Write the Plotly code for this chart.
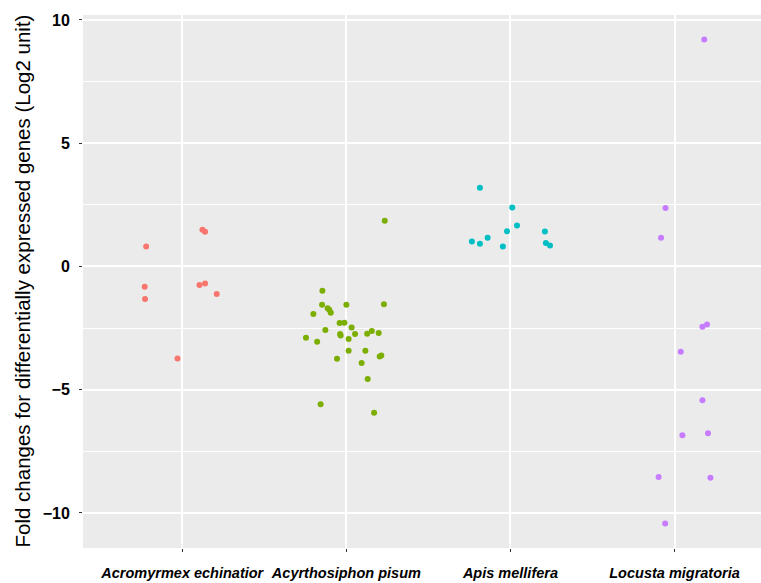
import plotly.graph_objects as go

categories = ["Acromyrmex echinatior", "Acyrthosiphon pisum", "Apis mellifera", "Locusta migratoria"]
colors = ["#F8766D", "#7CAE00", "#00BFC4", "#C77CFF"]

acro_values = [0.81, 1.49, 1.41, -0.82, -1.32, -0.75, -0.69, -1.12, -3.73]
acro_jitter = [-0.22, 0.123, 0.139, -0.229, -0.227, 0.105, 0.139, 0.21, -0.029]

acyr_values = [1.85, -0.99, -1.55, -1.55, -1.53, -1.69, -1.76, -1.88, -1.93, -2.29, -2.28,
               -2.48, -2.58, -2.89, -2.74, -2.80, -2.74, -2.94, -3.05, -2.73, -2.62, -2.70,
               -3.42, -3.42, -3.74, -3.65, -3.61, -3.92, -4.56, -5.59, -5.93]
acyr_jitter = [0.234, -0.146, -0.148, 0.0, 0.229, -0.114, -0.104, -0.095, -0.201, -0.041, -0.012,
               0.032, -0.128, -0.246, -0.038, -0.035, 0.053, 0.014, -0.178, 0.127, 0.155, 0.197,
               0.014, 0.116, -0.057, 0.203, 0.213, 0.093, 0.13, -0.157, 0.169]

apis_values = [3.19, 2.39, 1.66, 1.43, 1.42, 1.16, 1.01, 0.92, 0.81, 0.95, 0.85]
apis_jitter = [-0.186, 0.011, 0.04, -0.021, 0.21, -0.139, -0.235, -0.186, -0.046, 0.216, 0.241]

locu_values = [9.21, 2.37, 1.16, -2.35, -2.45, -3.46, -5.43, -6.85, -6.77, -8.54, -8.57, -10.43]
locu_jitter = [0.181, -0.055, -0.082, 0.198, 0.170, 0.038, 0.170, 0.048, 0.204, -0.097, 0.219, -0.057]

groups = [(acro_values, acro_jitter), (acyr_values, acyr_jitter),
          (apis_values, apis_jitter), (locu_values, locu_jitter)]

y_ticks = [-10, -5, 0, 5, 10]
y_title = "Fold changes for differentially expressed genes (Log2 unit)"

fig = go.Figure()
for i, (vals, jit) in enumerate(groups):
    fig.add_trace(go.Scatter(
        x=[i + 1 + j for j in jit],
        y=vals,
        mode="markers",
        marker=dict(color=colors[i], size=6, line=dict(width=0)),
        name=categories[i],
        showlegend=False,
    ))

fig.update_layout(
    width=761, height=583,
    margin=dict(l=83, r=0, t=15, b=35),
    paper_bgcolor="white",
    plot_bgcolor="#EBEBEB",
    font=dict(family="Liberation Sans, Arial, sans-serif", color="black"),
)
fig.update_xaxes(
    automargin=False,
    range=[0.395, 4.527],
    tickmode="array",
    tickvals=[1, 2, 3, 4],
    ticktext=categories,
    tickfont=dict(size=14.5, weight="bold", style="italic", color="black"),
    ticks="outside", ticklen=3, tickcolor="#333333", tickwidth=1,
    ticklabelstandoff=9,
    showgrid=True, gridcolor="white", gridwidth=1.5,
    zeroline=False, showline=False,
)
fig.update_yaxes(
    automargin=False,
    range=[-11.42, 10.2],
    tickmode="array",
    tickvals=y_ticks,
    ticktext=[str(v).replace("-", "\u2212") for v in y_ticks],
    tickfont=dict(size=16, weight="bold", color="black"),
    ticks="outside", ticklen=3, tickcolor="#333333", tickwidth=1,
    ticklabelstandoff=6,
    showgrid=True, gridcolor="white", gridwidth=1.5,
    minor=dict(tickvals=[-7.5, -2.5, 2.5, 7.5], showgrid=True, gridcolor="white", gridwidth=0.7, ticks=""),
    zeroline=False, showline=False,
)
fig.add_annotation(
    text=y_title, textangle=-90,
    xref="paper", yref="paper", x=(22 - 83) / 678, y=0.5,
    xanchor="center", yanchor="middle", showarrow=False,
    font=dict(size=20.5, color="black"),
)

fig.write_html(
    "out.html",
    config={"displayModeBar": False},
    post_script="document.body.style.margin='0';document.body.style.overflow='hidden';",
)
